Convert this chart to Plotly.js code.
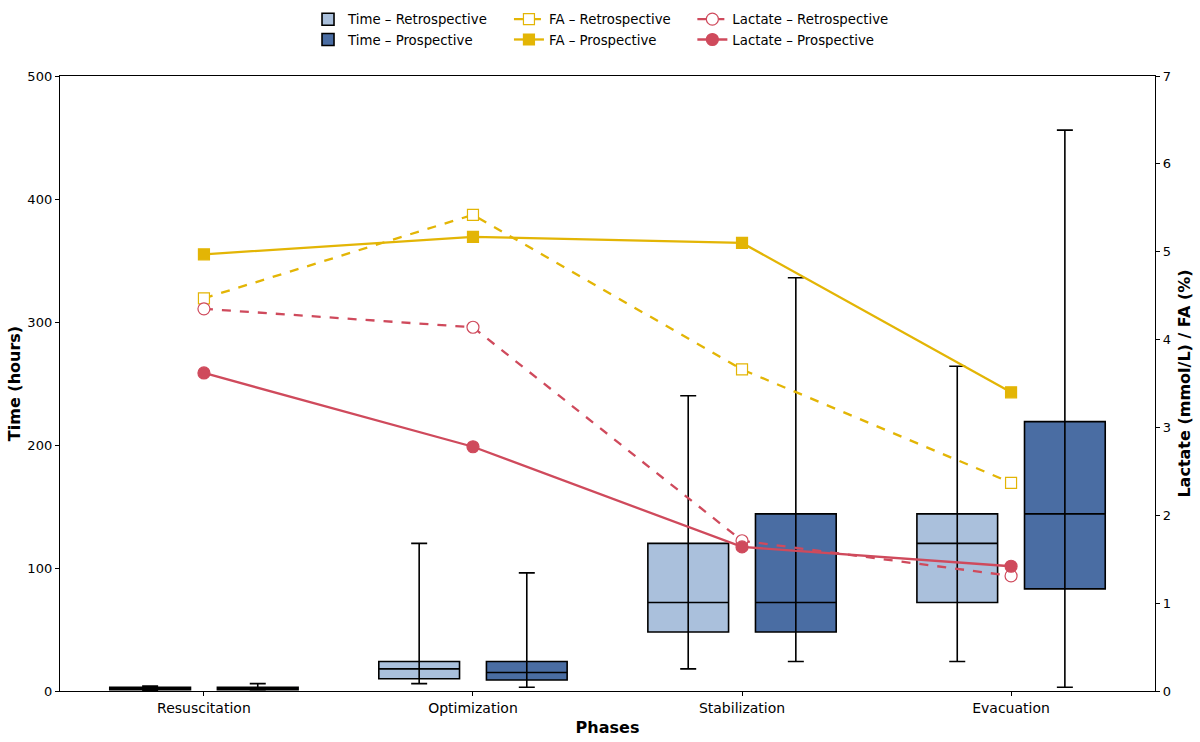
<!DOCTYPE html>
<html>
<head>
<meta charset="utf-8">
<script src="https://cdn.plot.ly/plotly-3.0.1.min.js"></script>
<style>html,body{margin:0;padding:0;background:#fff;}#chart{width:1200px;height:742px;}</style>
</head>
<body>
<div id="chart"></div>
<script>
// Categories
var phases = ["Resuscitation", "Optimization", "Stabilization", "Evacuation"];

// Time (hours) box statistics – Retrospective
var retroLower  = [0.5, 6, 18, 24];
var retroQ1     = [1, 10, 48, 72];
var retroMedian = [2, 18, 72, 120];
var retroQ3     = [3, 24, 120, 144];
var retroUpper  = [4, 120, 240, 264];

// Time (hours) box statistics – Prospective
var prosLower  = [1, 3, 24, 3];
var prosQ1     = [1, 9, 48, 83];
var prosMedian = [2, 15, 72, 144];
var prosQ3     = [3, 24, 144, 219];
var prosUpper  = [6, 96, 336, 456];

// FA (%) and Lactate (mmol/L)
var faRetro = [4.47, 5.42, 3.66, 2.37];
var faPros  = [4.97, 5.17, 5.10, 3.40];
var lacRetro = [4.35, 4.14, 1.71, 1.31];
var lacPros  = [3.62, 2.78, 1.64, 1.42];

var idx = phases.map(function(_, i){ return i; });
var posRetro = idx.map(function(i){ return i - 0.2; });
var posPros  = idx.map(function(i){ return i + 0.2; });

var cRetroBox = "#aac0dc", cProsBox = "#4a6da3";
var cFA = "#e3b505", cLac = "#cf4a5c";
var font = "DejaVu Sans, sans-serif";

function boxTrace(name, pos, q1, med, q3, fill, legend) {
  return {
    type: "box", name: name, x: pos, q1: q1, median: med, q3: q3,
    lowerfence: q1, upperfence: q3, width: 0.3, whiskerwidth: 0,
    fillcolor: fill, line: {color: "#000", width: 1.6},
    hoverinfo: "skip", legend: legend, showlegend: true, boxpoints: false
  };
}
function whiskerTrace(pos, lower, med, upper) {
  return {
    type: "scatter", mode: "markers", x: pos, y: med,
    marker: {size: 1, opacity: 0},
    error_y: {type: "data", symmetric: false,
      array: upper.map(function(u, i){ return u - med[i]; }),
      arrayminus: lower.map(function(l, i){ return med[i] - l; }),
      color: "#000", thickness: 1.6, width: 8},
    showlegend: false, hoverinfo: "skip"
  };
}
function lineTrace(name, y, color, dash, open, symbol, legend) {
  return {
    type: "scatter", mode: "lines+markers", name: name, x: idx, y: y, yaxis: "y2",
    line: {color: color, width: 2.3, dash: dash},
    marker: {symbol: symbol, size: symbol === "square" ? 11 : 12,
      color: open ? "#fff" : color, line: {color: color, width: 1.2}},
    legend: legend
  };
}

var data = [
  boxTrace("Time – Retrospective", posRetro, retroQ1, retroMedian, retroQ3, cRetroBox, "legend"),
  boxTrace("Time – Prospective", posPros, prosQ1, prosMedian, prosQ3, cProsBox, "legend"),
  whiskerTrace(posRetro, retroLower, retroMedian, retroUpper),
  whiskerTrace(posPros, prosLower, prosMedian, prosUpper),
  lineTrace("FA – Retrospective", faRetro, cFA, "dash", true, "square", "legend2"),
  lineTrace("FA – Prospective", faPros, cFA, "solid", false, "square", "legend2"),
  lineTrace("Lactate – Retrospective", lacRetro, cLac, "dash", true, "circle", "legend3"),
  lineTrace("Lactate – Prospective", lacPros, cLac, "solid", false, "circle", "legend3")
];

var legendBase = {
  orientation: "v", yanchor: "top", xanchor: "left", y: 1.117,
  font: {family: font, size: 13.3, color: "#000"}, bgcolor: "rgba(0,0,0,0)",
  tracegroupgap: 0, itemwidth: 30
};
function leg(x){ var o = JSON.parse(JSON.stringify(legendBase)); o.x = x; return o; }

var layout = {
  width: 1200, height: 742,
  margin: {l: 60, r: 45, t: 76, b: 51, autoexpand: false},
  paper_bgcolor: "#fff", plot_bgcolor: "#fff",
  font: {family: font, size: 13, color: "#000"},
  showlegend: true,
  legend: leg(0.2265),
  legend2: leg(0.410),
  legend3: leg(0.5775),
  xaxis: {
    range: [-0.535, 3.535], tickmode: "array", tickvals: idx, ticktext: phases,
    showgrid: false, zeroline: false, showline: true, linecolor: "#000", linewidth: 1.2,
    mirror: true, ticks: "outside", ticklen: 4, tickcolor: "#000",
    tickfont: {family: font, size: 14}, automargin: false,
    title: {text: "<b>Phases</b>", font: {family: font, size: 16}, standoff: 6}
  },
  yaxis: {
    range: [0, 500], tickvals: [0, 100, 200, 300, 400, 500],
    showgrid: false, zeroline: false, showline: true, linecolor: "#000", linewidth: 1.2,
    ticks: "outside", ticklen: 4, tickcolor: "#000",
    tickfont: {family: font, size: 13}, automargin: false,
    title: {text: "<b>Time (hours)</b>", font: {family: font, size: 16}, standoff: 2}
  },
  yaxis2: {
    overlaying: "y", side: "right", range: [0, 7], tickvals: [0,1,2,3,4,5,6,7],
    showgrid: false, zeroline: false, showline: true, linecolor: "#000", linewidth: 1.2,
    ticks: "outside", ticklen: 4, tickcolor: "#000",
    tickfont: {family: font, size: 13}, automargin: false,
    title: {text: "<b>Lactate (mmol/L) / FA (%)</b>", font: {family: font, size: 16}, standoff: 8}
  },
  boxmode: "overlay"
};

Plotly.newPlot("chart", data, layout, {displayModeBar: false, staticPlot: true});
</script>
</body>
</html>
